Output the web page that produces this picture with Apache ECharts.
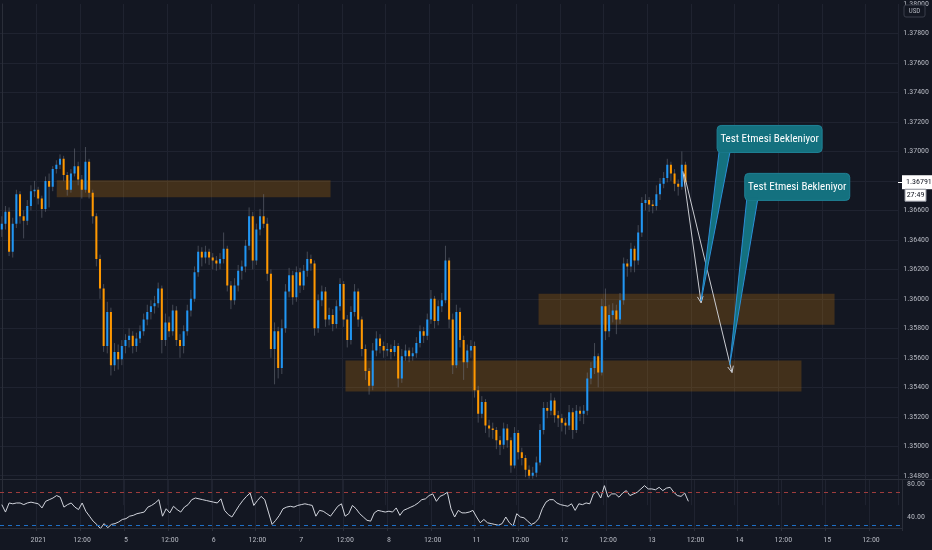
<!DOCTYPE html>
<html>
<head>
<meta charset="utf-8">
<script src="https://cdn.jsdelivr.net/npm/echarts/dist/echarts.min.js"></script>
<style>
html,body{margin:0;padding:0;background:#131722;}
#c{width:932px;height:550px;}
</style>
</head>
<body>
<div id="c"></div>
<script>
// ---------- DATA (hourly candles) ----------
const firstOpen = 1.3647;
const closes = [
1.3651,1.3659,1.3632,1.3651,1.3671,1.3656,1.3653,1.3663,1.3673,1.3674,
1.3668,1.3661,1.3680,1.3676,1.3688,1.3691,1.3695,1.3684,1.3674,1.3685,
1.3690,1.3681,1.3674,1.3693,1.3672,1.3656,1.3627,1.3607,1.3568,1.3591,
1.3555,1.3564,1.3559,1.3568,1.3572,1.3575,1.3568,1.3573,1.3578,1.3586,
1.3591,1.3595,1.3597,1.3607,1.3572,1.3584,1.3578,1.3592,1.3572,1.3568,
1.3578,1.3592,1.3600,1.3618,1.3632,1.3628,1.3632,1.3628,1.3626,1.3624,
1.3627,1.3634,1.3609,1.3599,1.3609,1.3619,1.3622,1.3636,1.3656,1.3626,
1.3647,1.3656,1.3651,1.3617,1.3566,1.3578,1.3553,1.3580,1.3605,1.3616,
1.3601,1.3618,1.3609,1.3619,1.3627,1.3624,1.3580,1.3599,1.3605,1.3586,
1.3589,1.3583,1.3595,1.3610,1.3586,1.3572,1.3591,1.3605,1.3586,1.3566,
1.3551,1.3541,1.3565,1.3573,1.3568,1.3565,1.3566,1.3564,1.3568,1.3546,
1.3561,1.3565,1.3561,1.3563,1.3570,1.3578,1.3575,1.3586,1.3600,1.3585,
1.3595,1.3599,1.3626,1.3586,1.3555,1.3591,1.3572,1.3557,1.3565,1.3568,
1.3538,1.3522,1.3530,1.3514,1.3512,1.3511,1.3504,1.3501,1.3512,1.3504,
1.3487,1.3509,1.3496,1.3492,1.3484,1.3480,1.3482,1.3489,1.3511,1.3526,
1.3524,1.3531,1.3521,1.3519,1.3516,1.3514,1.3523,1.3511,1.3524,1.3522,
1.3524,1.3546,1.3553,1.3561,1.3550,1.3595,1.3578,1.3589,1.3592,1.3586,
1.3599,1.3624,1.3622,1.3634,1.3626,1.3645,1.3665,1.3667,1.3664,1.3663,
1.3671,1.3678,1.3682,1.3691,1.3685,1.3678,1.3676,1.3691,1.36791
];
const highs = [
1.3656,1.3663,1.3662,1.3655,1.3674,1.3673,1.3660,1.3667,1.3677,1.3680,
1.3676,1.3670,1.3683,1.3685,1.3690,1.3694,1.3698,1.3697,1.3686,1.3688,
1.3702,1.3693,1.3684,1.3703,1.3695,1.3674,1.3658,1.3630,1.3610,1.3598,
1.3594,1.3570,1.3569,1.3572,1.3576,1.3580,1.3578,1.3577,1.3582,1.3590,
1.3596,1.3599,1.3602,1.3611,1.3609,1.3590,1.3588,1.3596,1.3595,1.3576,
1.3582,1.3596,1.3606,1.3622,1.3636,1.3635,1.3636,1.3634,1.3631,1.3629,
1.3631,1.3645,1.3636,1.3612,1.3614,1.3623,1.3626,1.3640,1.3662,1.3659,
1.3651,1.3661,1.3671,1.3655,1.3620,1.3584,1.3581,1.3586,1.3610,1.3621,
1.3619,1.3622,1.3621,1.3623,1.3632,1.3630,1.3626,1.3603,1.3609,1.3608,
1.3594,1.3593,1.3599,1.3614,1.3612,1.3589,1.3595,1.3610,1.3607,1.3588,
1.3569,1.3553,1.3570,1.3578,1.3576,1.3571,1.3570,1.3569,1.3572,1.3570,
1.3566,1.3569,1.3567,1.3567,1.3574,1.3582,1.3581,1.3590,1.3606,1.3602,
1.3599,1.3604,1.3636,1.3628,1.3590,1.3596,1.3594,1.3575,1.3569,1.3572,
1.3571,1.3541,1.3534,1.3532,1.3518,1.3516,1.3513,1.3507,1.3516,1.3515,
1.3506,1.3513,1.3511,1.3499,1.3494,1.3487,1.3486,1.3493,1.3515,1.3530,
1.3530,1.3536,1.3533,1.3524,1.3522,1.3519,1.3528,1.3526,1.3528,1.3527,
1.3528,1.3550,1.3557,1.3570,1.3563,1.3600,1.3607,1.3596,1.3597,1.3596,
1.3604,1.3628,1.3627,1.3638,1.3636,1.3650,1.3669,1.3671,1.3669,1.3667,
1.3677,1.3682,1.3686,1.3695,1.3693,1.3688,1.3681,1.3700,1.3693
];
const lows = [
1.3642,1.3647,1.3629,1.3628,1.3648,1.3651,1.3641,1.3650,1.3660,1.3669,
1.3664,1.3655,1.3659,1.3662,1.3673,1.3685,1.3688,1.3680,1.3670,1.3672,
1.3683,1.3677,1.3668,1.3672,1.3668,1.3651,1.3622,1.3600,1.3564,1.3563,
1.3548,1.3551,1.3552,1.3555,1.3563,1.3567,1.3563,1.3564,1.3570,1.3575,
1.3582,1.3586,1.3590,1.3594,1.3563,1.3568,1.3574,1.3575,1.3568,1.3560,
1.3563,1.3575,1.3588,1.3598,1.3615,1.3622,1.3624,1.3623,1.3620,1.3619,
1.3620,1.3624,1.3605,1.3593,1.3596,1.3605,1.3613,1.3618,1.3633,1.3620,
1.3623,1.3643,1.3648,1.3612,1.3560,1.3542,1.3546,1.3549,1.3577,1.3601,
1.3596,1.3598,1.3604,1.3606,1.3615,1.3619,1.3575,1.3577,1.3595,1.3581,
1.3582,1.3578,1.3580,1.3592,1.3581,1.3567,1.3569,1.3588,1.3581,1.3561,
1.3545,1.3535,1.3538,1.3561,1.3563,1.3560,1.3561,1.3559,1.3561,1.3540,
1.3543,1.3558,1.3557,1.3558,1.3560,1.3567,1.3570,1.3572,1.3583,1.3580,
1.3582,1.3591,1.3597,1.3580,1.3549,1.3553,1.3567,1.3545,1.3553,1.3560,
1.3533,1.3516,1.3519,1.3509,1.3506,1.3505,1.3498,1.3494,1.3498,1.3499,
1.3482,1.3485,1.3491,1.3487,1.3479,1.3478,1.3478,1.3479,1.3487,1.3508,
1.3519,1.3521,1.3516,1.3513,1.3510,1.3508,1.3511,1.3505,1.3509,1.3517,
1.3515,1.3521,1.3542,1.3549,1.3540,1.3548,1.3572,1.3574,1.3584,1.3576,
1.3583,1.3596,1.3615,1.3618,1.3618,1.3623,1.3642,1.3660,1.3659,1.3658,
1.3660,1.3667,1.3675,1.3679,1.3680,1.3673,1.3670,1.3674,1.3676
];
const rsi = [
55,46,57,56,57,57,55,57,58,57,
56,51,59,61,63,66,64,52,55,57,
52,49,57,47,41,35,31,26,32,27,
31,32,34,37,38,41,42,44,45,46,
52,54,57,61,41,50,45,53,49,46,
52,55,61,63,62,61,60,59,58,57,
62,48,43,40,47,54,60,65,69,54,
60,65,61,46,31,36,42,50,52,53,
52,54,55,56,55,54,41,48,47,44,
41,47,53,56,41,44,54,50,44,40,
36,35,45,48,47,46,47,46,51,42,
48,50,52,54,57,61,62,66,68,59,
65,67,70,50,40,48,45,45,46,48,
40,33,37,33,32,31,30,32,40,33,
29,44,40,39,35,31,33,38,50,58,
61,61,57,55,54,53,56,48,56,55,
57,56,68,71,63,78,64,68,68,64,
69,72,66,68,70,74,78,74,74,73,
76,72,75,76,70,66,65,69,59
];
// time-axis tick labels (slot index -> label)
const tickSlots  = [10,22,34,46,58,70,82,94,106,118,130,142,154,166,178,190,202,214,226,238];
const tickLabels = ['2021','12:00','5','12:00','6','12:00','7','12:00','8','12:00','11','12:00','12','12:00','13','12:00','14','12:00','15','12:00'];
// RSI reference levels
const rsiUpper = 70, rsiLower = 30;
const rsiLabels = [40, 80];
// zones: [xStart, xEnd, priceTop, priceBottom]  (x in bar slots)
const zoneXStart = [15.1, 147.6, 94.5];
const zoneXEnd   = [90.4, 229.0, 219.9];
const zoneTop    = [1.36804, 1.36034, 1.35581];
const zoneBottom = [1.36689, 1.35824, 1.35372];
// arrows: from (slot, price) to (slot, price)
const arrowFromX = [187.3, 187.6];
const arrowFromY = [1.36865, 1.36851];
const arrowToX   = [192.3, 200.8];
const arrowToY   = [1.35973, 1.35500];
// callouts: box top-left (slot, price) and pointer tip
const calloutText = ['Test Etmesi Bekleniyor', 'Test Etmesi Bekleniyor'];
const calloutBoxX = [196.7, 204.3];
const calloutBoxY = [1.37176, 1.36851];
const calloutTipX = [192.3, 200.2];
const calloutTipY = [1.35986, 1.35554];
const countdownText = '27:49';

// ---------- layout / style ----------
const SLOT_COUNT = 247;
const BG = '#131722', GRID = '#1f2330', AXIS = '#2a2e39', TXT = '#b2b5be';
const UP = '#2196f3', DOWN = '#ff9800';
const NARROW = '"Liberation Sans Narrow","Roboto Condensed","DejaVu Sans Condensed","Liberation Sans",sans-serif';

const slots = Array.from({length: SLOT_COUNT}, (_, i) => String(i));
const tickMap = {};
tickSlots.forEach((s, k) => { tickMap[s] = tickLabels[k]; });
const isTick = (idx) => tickMap[idx] !== undefined;

const candleData = closes.map((c, i) => [i, i === 0 ? firstOpen : closes[i - 1], c, lows[i], highs[i]]);
const zoneData = zoneXStart.map((x, i) => [x, zoneXEnd[i], zoneTop[i], zoneBottom[i]]);
const arrowData = arrowFromX.map((x, i) => [x, arrowFromY[i], arrowToX[i], arrowToY[i]]);
const calloutData = calloutBoxX.map((x, i) => [x, calloutBoxY[i], calloutTipX[i], calloutTipY[i]]);

function renderCandle(params, api) {
  const i = api.value(0);
  const o = api.value(1), c = api.value(2), l = api.value(3), h = api.value(4);
  const pO = api.coord([i, o]), pC = api.coord([i, c]);
  const pL = api.coord([i, l]), pH = api.coord([i, h]);
  const slot = api.size([1, 0])[0];
  const bw = Math.max(1.5, slot * 0.56);
  const x = pO[0];
  const top = Math.min(pO[1], pC[1]);
  const hgt = Math.max(1, Math.abs(pO[1] - pC[1]));
  const up = c >= o;
  return {type: 'group', children: [
    {type: 'line', shape: {x1: x, y1: pH[1], x2: x, y2: pL[1]}, style: {stroke: 'rgba(120,124,136,0.5)', lineWidth: 1}},
    {type: 'rect', shape: {x: x - bw / 2, y: top, width: bw, height: hgt}, style: {fill: up ? UP : DOWN}}
  ]};
}
function renderZone(params, api) {
  const p0 = api.coord([api.value(0), api.value(2)]);
  const p1 = api.coord([api.value(1), api.value(3)]);
  return {type: 'rect', shape: {x: p0[0], y: p0[1], width: p1[0] - p0[0], height: p1[1] - p0[1]},
          style: {fill: 'rgba(255,152,0,0.2)'}};
}
function renderArrow(params, api) {
  const a = api.coord([api.value(0), api.value(1)]);
  const b = api.coord([api.value(2), api.value(3)]);
  const ang = Math.atan2(b[1] - a[1], b[0] - a[0]);
  const L = 7, sp = 0.42;
  const h1 = [b[0] - L * Math.cos(ang - sp), b[1] - L * Math.sin(ang - sp)];
  const h2 = [b[0] - L * Math.cos(ang + sp), b[1] - L * Math.sin(ang + sp)];
  return {type: 'group', children: [
    {type: 'line', shape: {x1: a[0], y1: a[1], x2: b[0], y2: b[1]}, style: {stroke: '#c9cbd1', lineWidth: 1}},
    {type: 'polyline', shape: {points: [h1, b, h2]}, style: {stroke: '#c9cbd1', lineWidth: 1, fill: null}}
  ]};
}
function renderCallout(params, api) {
  const p = api.coord([api.value(0), api.value(1)]);
  const t = api.coord([api.value(2), api.value(3)]);
  const w = 105, h = 27;
  return {type: 'group', children: [
    {type: 'polygon', shape: {points: [[p[0] + 2, p[1] + h - 1], [p[0] + 13, p[1] + h - 1], t]},
     style: {fill: '#14717f', stroke: '#2a8fd6', lineWidth: 1}},
    {type: 'rect', shape: {x: p[0], y: p[1], width: w, height: h, r: 4},
     style: {fill: '#14717f', stroke: '#1f8196', lineWidth: 1}},
    {type: 'rect', shape: {x: p[0] + 2.5, y: p[1] + h - 3, width: 10, height: 3}, style: {fill: '#14717f'}},
    {type: 'text', style: {text: calloutText[params.dataIndex], x: p[0] + w / 2, y: p[1] + h / 2 + 0.5,
      fill: '#ffffff', font: '11px ' + NARROW, align: 'center', verticalAlign: 'middle'}}
  ]};
}

const chart = echarts.init(document.getElementById('c'), null, {renderer: 'canvas'});
// price pane: 1.370 at y=150, 148px per 0.01
const priceMax = 1.380, priceMin = 1.346;
const priceTop = 150 - (priceMax - 1.370) * 14800;
const priceHeight = (priceMax - priceMin) * 14800;

chart.setOption({
  backgroundColor: BG,
  animation: false,
  grid: [
    {left: 0, right: 30, top: priceTop, height: priceHeight},
    {left: 0, right: 30, top: 480, height: 48}
  ],
  xAxis: [
    {type: 'category', gridIndex: 0, data: slots, boundaryGap: true,
     axisLine: {show: false}, axisTick: {show: false}, axisLabel: {show: false},
     splitLine: {show: true, interval: isTick, lineStyle: {color: GRID, width: 1}}},
    {type: 'category', gridIndex: 1, data: slots, boundaryGap: true,
     axisLine: {show: true, lineStyle: {color: AXIS}},
     axisTick: {show: true, interval: isTick, length: 3, lineStyle: {color: AXIS}},
     axisLabel: {show: true, interval: isTick, formatter: (v, idx) => tickMap[idx] || '',
                 color: TXT, fontSize: 8, fontFamily: NARROW, margin: 8},
     splitLine: {show: true, interval: isTick, lineStyle: {color: GRID, width: 1}}},
    {type: 'value', gridIndex: 0, position: 'top', min: -0.5, max: SLOT_COUNT - 0.5, show: false}
  ],
  yAxis: [
    {type: 'value', gridIndex: 0, position: 'right', min: priceMin, max: priceMax, interval: 0.002,
     axisLine: {show: true, lineStyle: {color: AXIS}}, axisTick: {show: false},
     axisLabel: {color: TXT, fontSize: 8, fontFamily: NARROW, margin: 5, showMinLabel: false, showMaxLabel: true,
                 formatter: v => v.toFixed(5)},
     splitLine: {show: true, showMinLine: false, showMaxLine: false, lineStyle: {color: GRID, width: 1}}},
    {type: 'value', gridIndex: 1, position: 'right', min: 26.67, max: 84.85,
     axisLine: {show: true, lineStyle: {color: AXIS}}, axisTick: {show: false},
     axisLabel: {color: TXT, fontSize: 8, fontFamily: NARROW, margin: 5, customValues: rsiLabels,
                 formatter: v => Number(v).toFixed(2)},
     splitLine: {show: false}}
  ],
  series: [
    {type: 'custom', name: 'zones', xAxisIndex: 2, yAxisIndex: 0, z: 1, silent: true,
     renderItem: renderZone, data: zoneData, encode: {x: [0, 1], y: [2, 3]}},
    {type: 'custom', name: 'GBPUSD', xAxisIndex: 0, yAxisIndex: 0, z: 3, clip: true,
     renderItem: renderCandle, data: candleData, encode: {x: 0, y: [1, 2, 3, 4]}},
    {type: 'custom', name: 'arrows', xAxisIndex: 2, yAxisIndex: 0, z: 4, silent: true,
     renderItem: renderArrow, data: arrowData, encode: {x: [0, 2], y: [1, 3]}},
    {type: 'custom', name: 'callouts', xAxisIndex: 2, yAxisIndex: 0, z: 5, silent: true,
     renderItem: renderCallout, data: calloutData, encode: {x: [0, 2], y: [1, 3]}},
    {type: 'line', name: 'RSI', xAxisIndex: 1, yAxisIndex: 1, data: rsi, symbol: 'none',
     lineStyle: {color: '#d1d4dc', width: 1}, z: 3,
     markLine: {silent: true, symbol: 'none', label: {show: false},
       data: [
         {yAxis: rsiUpper, lineStyle: {color: '#9e3c3c', type: [4, 4], width: 1}},
         {yAxis: rsiLower, lineStyle: {color: '#1f6fc5', type: [4, 4], width: 1}}
       ]}}
  ]
});

const lastClose = closes[closes.length - 1];
const yLast = chart.convertToPixel({yAxisIndex: 0}, lastClose);
chart.setOption({
  graphic: [
    {type: 'rect', shape: {x: 0, y: 479, width: 932, height: 1}, style: {fill: AXIS}, z: 10},
    {type: 'rect', shape: {x: 904, y: 5, width: 21, height: 12, r: 2}, style: {fill: BG, stroke: '#3a3e4a'}, z: 10},
    {type: 'text', style: {text: 'USD', x: 914.5, y: 11.5, fill: TXT, font: '7px ' + NARROW, align: 'center', verticalAlign: 'middle'}, z: 11},
    {type: 'rect', shape: {x: 898, y: Math.round(yLast), width: 4, height: 1}, style: {fill: '#ffffff'}, z: 10},
    {type: 'rect', shape: {x: 902, y: yLast - 7, width: 30, height: 14}, style: {fill: '#ffffff'}, z: 10},
    {type: 'text', style: {text: lastClose.toFixed(5), x: 906, y: yLast, fill: '#131722', font: '8px ' + NARROW, verticalAlign: 'middle'}, z: 11},
    {type: 'rect', shape: {x: 905, y: yLast + 7, width: 21, height: 12}, style: {fill: '#ffffff', stroke: '#9598a1'}, z: 10},
    {type: 'text', style: {text: countdownText, x: 915.5, y: yLast + 13, fill: '#131722', font: '8px ' + NARROW, align: 'center', verticalAlign: 'middle'}, z: 11}
  ]
});
</script>
</body>
</html>
